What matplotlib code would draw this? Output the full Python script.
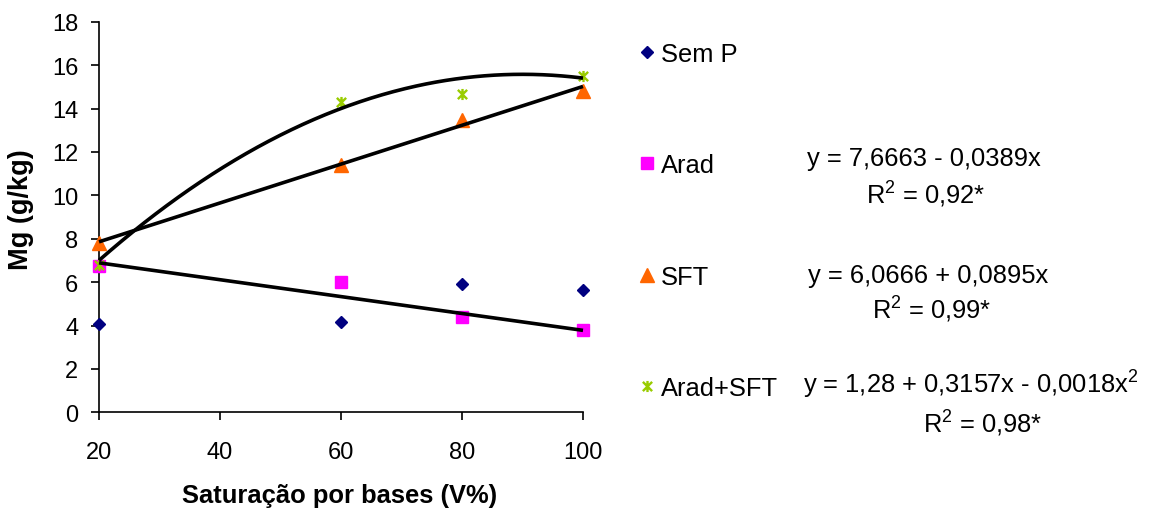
import matplotlib
matplotlib.use('Agg')
import matplotlib.pyplot as plt
import numpy as np
from matplotlib.path import Path

plt.rcParams['font.family'] = ['Liberation Sans', 'DejaVu Sans']
plt.rcParams['mathtext.fontset'] = 'custom'
plt.rcParams['mathtext.rm'] = 'Liberation Sans'
plt.rcParams['mathtext.it'] = 'Liberation Sans'
plt.rcParams['mathtext.default'] = 'regular'

# ---- data ----
x_vals = [20, 60, 80, 100]
sem_p = [4.07, 4.18, 5.91, 5.64]
arad = [6.76, 6.02, 4.41, 3.79]
sft = [7.82, 11.41, 13.49, 14.82]
arad_sft = [6.78, 14.30, 14.67, 15.51]

series_names = ['Sem P', 'Arad', 'SFT', 'Arad+SFT']

# trend-line coefficients (ascending powers)
arad_fit = [7.6663, -0.0389]
sft_fit = [6.0666, 0.0895]
arad_sft_fit = [1.40, 0.315, -0.00175]   # curve as drawn in the chart

eq_texts = ['y = 7,6663 - 0,0389x',
            'y = 6,0666 + 0,0895x',
            'y = 1,28 + 0,3157x - 0,0018x$^{2}$']
r2_texts = ['R$^{2}$ = 0,92*', 'R$^{2}$ = 0,99*', 'R$^{2}$ = 0,98*']

x_ticks = [20, 40, 60, 80, 100]
y_ticks = list(range(0, 19, 2))

# ---- figure ----
W, H = 1161, 510
fig = plt.figure(figsize=(W / 100, H / 100), dpi=100)
L, R, T, B = 99, 583, 22.7, 413.3
ax = fig.add_axes([L / W, 1 - B / H, (R - L) / W, (B - T) / H])

star = Path([(-1, -1), (1, 1), (-1, 1), (1, -1), (0, -1.2), (0, 1.2)],
            [Path.MOVETO, Path.LINETO, Path.MOVETO, Path.LINETO, Path.MOVETO, Path.LINETO])

navy, magenta, orange, green = '#000080', '#FF00FF', '#FF6600', '#99CC00'
ms_kw = dict(linestyle='none', clip_on=False, zorder=3)
h1, = ax.plot(x_vals, sem_p, marker='D', ms=6.5, color=navy, mec=navy, **ms_kw)
h2, = ax.plot(x_vals, arad, marker='s', ms=8, color=magenta, mec=magenta, **ms_kw)
h3, = ax.plot(x_vals, sft, marker='^', ms=9.5, color=orange, mec=orange, **ms_kw)
h4, = ax.plot(x_vals, arad_sft, marker=star, ms=8, color=green, mec=green,
              mew=1.7, **ms_kw)

xx = np.linspace(20, 100, 300)
for coefs in (arad_fit, sft_fit, arad_sft_fit):
    yy = np.polynomial.polynomial.polyval(xx, coefs)
    ax.plot(xx, yy, color='black', lw=2.6, zorder=4, clip_on=False,
            solid_capstyle='butt')

ax.set_xlim(20, 100)
ax.set_ylim(0, 18)
ax.set_xticks(x_ticks)
ax.set_yticks(y_ticks)
for s in ('top', 'right'):
    ax.spines[s].set_visible(False)
for s in ('left', 'bottom'):
    ax.spines[s].set_linewidth(1.2)
ax.tick_params(axis='both', direction='out', length=6, width=1.2,
               labelsize=17, colors='black')
ax.tick_params(axis='y', pad=9)
ax.tick_params(axis='x', pad=15)

ax.set_xlabel('Saturação por bases (V%)', fontsize=18.4, fontweight='bold',
              va='baseline')
ax.xaxis.set_label_coords((340 - L) / (R - L), (B - 503.3) / (B - T))
ax.set_ylabel('Mg (g/kg)', fontsize=19.5, fontweight='bold', va='center')
ax.yaxis.set_label_coords((21.5 - L) / (R - L), (B - 210) / (B - T))

fig.legend([h1, h2, h3, h4], series_names, loc='upper left',
           bbox_to_anchor=(636.8 / W, 1 - 43 / H), frameon=False,
           fontsize=18.4, handlelength=0.8, handletextpad=0.15,
           borderpad=0, borderaxespad=0, labelspacing=3.42, numpoints=1)

eq_pos = [(806.7, 166), (808.3, 283.3), (803, 393.3)]
r2_pos = [(866, 204), (871.7, 319.3), (922.7, 433.3)]
for t, (px, py) in zip(eq_texts, eq_pos):
    fig.text(px / W, 1 - py / H, t, fontsize=18.4, ha='left', va='baseline')
for t, (px, py) in zip(r2_texts, r2_pos):
    fig.text(px / W, 1 - py / H, t, fontsize=18.4, ha='left', va='baseline')

fig.savefig('out.png', dpi=100)
